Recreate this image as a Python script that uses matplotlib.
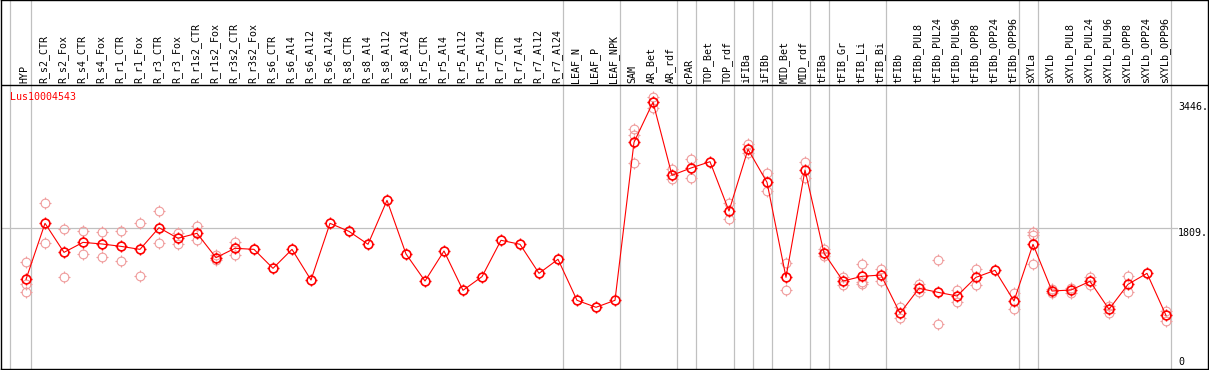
import matplotlib
matplotlib.use('Agg')
import matplotlib.pyplot as plt
from matplotlib.path import Path
import numpy as np

# ---------------- data ----------------
gene = "Lus10004543"
samples = ["HYP", "R_s2_CTR", "R_s2_Fox", "R_s4_CTR", "R_s4_Fox", "R_r1_CTR", "R_r1_Fox",
           "R_r3_CTR", "R_r3_Fox", "R_r1s2_CTR", "R_r1s2_Fox", "R_r3s2_CTR", "R_r3s2_Fox",
           "R_s6_CTR", "R_s6_Al4", "R_s6_Al12", "R_s6_Al24", "R_s8_CTR", "R_s8_Al4",
           "R_s8_Al12", "R_s8_Al24", "R_r5_CTR", "R_r5_Al4", "R_r5_Al12", "R_r5_Al24",
           "R_r7_CTR", "R_r7_Al4", "R_r7_Al12", "R_r7_Al24", "LEAF_N", "LEAF_P", "LEAF_NPK",
           "SAM", "AR_Bet", "AR_rdf", "cPAR", "TOP_Bet", "TOP_rdf", "iFIBa", "iFIBb",
           "MID_Bet", "MID_rdf", "tFIBa", "tFIB_Gr", "tFIB_Li", "tFIB_Bi", "tFIBb",
           "tFIBb_PUL8", "tFIBb_PUL24", "tFIBb_PUL96", "tFIBb_OPP8", "tFIBb_OPP24",
           "tFIBb_OPP96", "sXYLa", "sXYLb", "sXYLb_PUL8", "sXYLb_PUL24", "sXYLb_PUL96",
           "sXYLb_OPP8", "sXYLb_OPP24", "sXYLb_OPP96"]

means = [1141, 1870, 1492, 1622, 1601, 1570, 1531, 1813, 1675, 1740, 1423, 1545, 1531,
         1284, 1531, 1132, 1870, 1765, 1597, 2169, 1471, 1119, 1510, 998, 1176,
         1649, 1597, 1219, 1402, 868, 777, 868,
         2924, 3446, 2495, 2590, 2672, 2030, 2833, 2404, 1167, 2564, 1484, 1119, 1180,
         1197, 699, 1024, 972, 924, 1167, 1258, 859, 1597, 989, 1002, 1115, 751,
         1076, 1219, 672]

replicates = [
    [1362, 1080, 976], [2130, 1610], [1792, 1176], [1765, 1466], [1752, 1427],
    [1765, 1375], [1870, 1188], [2026, 1610], [1748, 1601], [1835, 1653],
    [1462, 1393], [1622, 1462], [], [], [], [], [], [], [], [], [], [], [], [], [],
    [], [], [], [], [], [], [],
    [3093, 3019, 2651], [3510, 3446, 3367], [2573, 2443], [2703, 2464], [],
    [2134, 1922], [2898, 2789], [2521, 2287], [1357, 1002], [2668, 2464],
    [1531, 1445], [1167, 1067], [1340, 1110, 1080], [1271, 1119], [785, 634],
    [1076, 976], [1389, 556], [1002, 842], [1275, 1067], [], [959, 751],
    [1761, 1722, 1337], [1011, 959], [1032, 967], [1176, 1067], [794, 707],
    [1180, 972], [], [733, 603],
]

axis_labels = ["0", "1809.", "3446."]
axis_values = [0, 1809, 3446]
# column indices after which a group separator is drawn
group_ends = [0, 28, 31, 34, 35, 37, 38, 39, 41, 42, 45, 52, 53, 60]

# ---------------- layout (pixels) ----------------
W, H = 1209, 370
x0_px, dx_px = 26.0, 19.0          # first column centre, column pitch
y0_px = 367.0                      # pixel row of value 0
ppu = (367.0 - 228.0) / 1809.0     # pixels per unit
ax_l, ax_r, ax_t, ax_b = 1, 1208, 0, 369
header_px = 85

def xd(px):
    return (px - x0_px) / dx_px

def yd(py):
    return (y0_px - py) / ppu

fig = plt.figure(figsize=(W / 100, H / 100), dpi=100)
ax = fig.add_axes([ax_l / W, (H - ax_b) / H, (ax_r - ax_l) / W, (ax_b - ax_t) / H])
ax.set_xlim(xd(ax_l), xd(ax_r))
ax.set_ylim(yd(ax_b), yd(ax_t))
ax.set_xticks([])
ax.set_yticks([])
for s in ax.spines.values():
    s.set_color('black')
    s.set_linewidth(1.0)

grey = '#c0c0c0'
red = '#ff0000'
pink = '#f09c9c'
mono = 'DejaVu Sans Mono'

# separators
ax.axvline(xd(10), color=grey, lw=0.9, zorder=1)
for g in group_ends:
    ax.axvline(g + 4.5 / dx_px, color=grey, lw=0.9, zorder=1)

# header divider
ax.axhline(yd(header_px), color='black', lw=1.0, zorder=2)

# gridline at middle value
ax.axhline(axis_values[1], xmin=0, xmax=(1177 - ax_l) / (ax_r - ax_l), color=grey, lw=0.9, zorder=1)

# tick marker: 4 short ticks around a circle
tk_in, tk_out = 1.0, 1.4
verts, codes = [], []
for (a, b) in [((0, tk_in), (0, tk_out)), ((0, -tk_in), (0, -tk_out)),
               ((tk_in, 0), (tk_out, 0)), ((-tk_in, 0), (-tk_out, 0))]:
    verts += [a, b]
    codes += [Path.MOVETO, Path.LINETO]
ticks_mk = Path(verts, codes)

circ_size = 6.3                  # points (diameter)
tick_size = circ_size * tk_out   # full extent of tick marker

xs = np.arange(len(samples))

# replicates
rx, ry = [], []
for i, reps in enumerate(replicates):
    for v in reps:
        rx.append(xs[i])
        ry.append(v)
ax.plot(rx, ry, linestyle='none', marker='o', markersize=circ_size, markerfacecolor='none',
        markeredgecolor=pink, markeredgewidth=0.8, zorder=3)
ax.plot(rx, ry, linestyle='none', marker=ticks_mk, markersize=tick_size,
        markeredgecolor=pink, markeredgewidth=0.8, zorder=3)

# mean line
ax.plot(xs, means, color=red, lw=0.8, zorder=4)
ax.plot(xs, means, linestyle='none', marker='o', markersize=circ_size, markerfacecolor='none',
        markeredgecolor=red, markeredgewidth=1.2, zorder=4)
ax.plot(xs, means, linestyle='none', marker=ticks_mk, markersize=tick_size,
        markeredgecolor=red, markeredgewidth=1.0, zorder=4)

# header labels
for i, name in enumerate(samples):
    ax.text(i - 0.08, yd(83), name, rotation=90, ha='center', va='bottom',
            fontsize=7.2, family=mono, color='black', zorder=5)

# gene name
ax.text(xd(10), yd(97), gene, ha='left', va='center', fontsize=7.2, family=mono,
        color=red, zorder=5)

# right-side value labels
for lab, v in zip(axis_labels, axis_values):
    ax.text(xd(1178), v, lab, ha='left', va='bottom' if v == 0 else 'top',
            fontsize=7.2, family=mono, color='black', zorder=5)

fig.savefig('out.png', dpi=100)
